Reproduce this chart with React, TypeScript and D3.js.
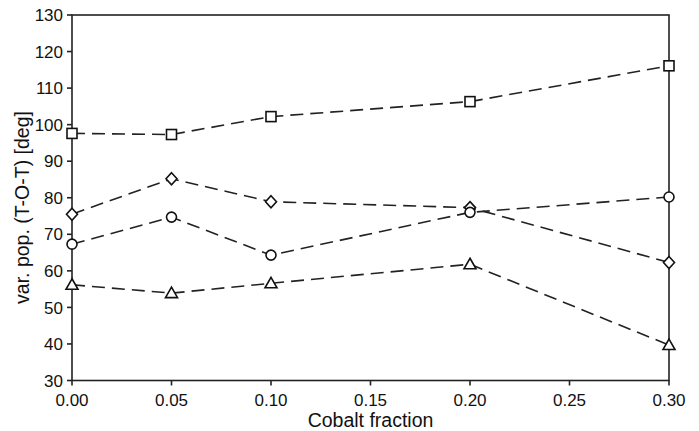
import React from "react";
import * as d3 from "d3";

const cobalt = [0.0, 0.05, 0.1, 0.2, 0.3];
const squares = [97.6, 97.3, 102.2, 106.3, 116.1];
const diamonds = [75.5, 85.2, 78.9, 77.3, 62.3];
const circles = [67.3, 74.7, 64.3, 76.0, 80.2];
const triangles = [56.2, 53.9, 56.6, 61.8, 39.7];
const xTicks = [0, 0.05, 0.1, 0.15, 0.2, 0.25, 0.3];
const yTicks = [30, 40, 50, 60, 70, 80, 90, 100, 110, 120, 130];

const W = 699, H = 431;
const L = 72, R = 669, T = 15, B = 380.5;

export default function App() {
  const x = d3.scaleLinear().domain([0, 0.3]).range([L, R]);
  const y = d3.scaleLinear().domain([30, 130]).range([B, T]);
  const line = d3.line<number>().x((_, i) => x(cobalt[i])).y((d) => y(d));
  const font = "Arial, 'Liberation Sans', Helvetica, sans-serif";
  const col = "#222";

  const series = [
    { vals: squares, shape: "square" },
    { vals: diamonds, shape: "diamond" },
    { vals: circles, shape: "circle" },
    { vals: triangles, shape: "triangle" },
  ];

  const marker = (shape: string, cx: number, cy: number, key: string) => {
    const p = { fill: "#fff", stroke: "#111", strokeWidth: 1.6, key };
    if (shape === "square") return <rect {...p} x={cx - 5} y={cy - 5} width={10} height={10} />;
    if (shape === "circle") return <circle {...p} cx={cx} cy={cy} r={5} />;
    if (shape === "diamond")
      return <path {...p} d={`M${cx},${cy - 6}L${cx + 5.5},${cy}L${cx},${cy + 6}L${cx - 5.5},${cy}Z`} />;
    return <path {...p} d={`M${cx},${cy - 6}L${cx + 6},${cy + 4.5}L${cx - 6},${cy + 4.5}Z`} />;
  };

  return (
    <svg width={W} height={H} style={{ position: "absolute", left: 0, top: 0, background: "#fff" }}>
      <rect x={0} y={0} width={W} height={H} fill="#fff" />
      {series.map((s, si) => (
        <path key={"l" + si} d={line(s.vals) || ""} fill="none" stroke="#222" strokeWidth={1.6} strokeDasharray="13,7" />
      ))}
      <rect x={L} y={T} width={R - L} height={B - T} fill="none" stroke={col} strokeWidth={1.6} />
      {yTicks.map((t) => (
        <g key={"y" + t}>
          <line x1={L - 5} x2={L} y1={y(t)} y2={y(t)} stroke={col} strokeWidth={1.6} />
          <text x={L - 9} y={y(t)} dy="0.36em" textAnchor="end" fontFamily={font} fontSize={17} fill="#111">
            {t}
          </text>
        </g>
      ))}
      {xTicks.map((t) => (
        <g key={"x" + t}>
          <line x1={x(t)} x2={x(t)} y1={B} y2={B + 5} stroke={col} strokeWidth={1.6} />
          <text x={x(t)} y={B + 25} textAnchor="middle" fontFamily={font} fontSize={17} fill="#111">
            {t.toFixed(2)}
          </text>
        </g>
      ))}
      {series.map((s, si) =>
        s.vals.map((v, i) => marker(s.shape, x(cobalt[i]), y(v), `m${si}-${i}`))
      )}
      <text x={(L + R) / 2} y={427} textAnchor="middle" fontFamily={font} fontSize={19.5} fill="#111">
        Cobalt fraction
      </text>
      <text
        transform={`translate(29,207.5) rotate(-90)`}
        textAnchor="middle"
        fontFamily={font}
        fontSize={19.5}
        fill="#111"
      >
        var. pop. (T-O-T) [deg]
      </text>
    </svg>
  );
}
